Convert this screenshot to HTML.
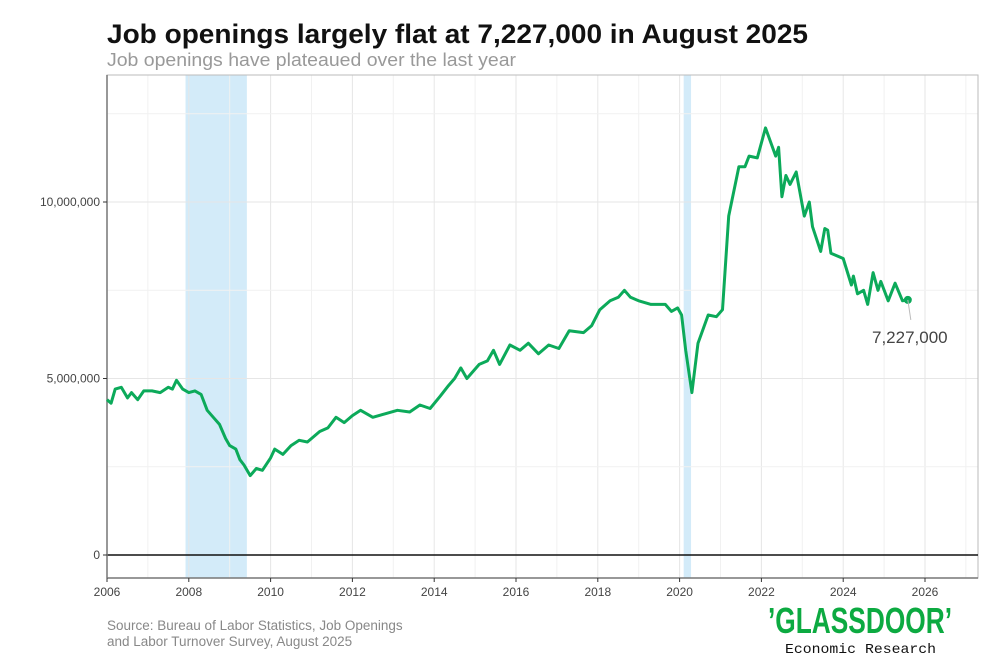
<!DOCTYPE html>
<html><head><meta charset="utf-8"><style>
body{margin:0;background:#fff;width:1000px;height:667px;overflow:hidden;font-family:"Liberation Sans",sans-serif}
</style></head><body>
<svg width="1000" height="667">
<text x="107" y="43" font-size="27" font-weight="bold" fill="#111" textLength="701" lengthAdjust="spacingAndGlyphs">Job openings largely flat at 7,227,000 in August 2025</text>
<text x="107" y="66" font-size="18" fill="#999" textLength="409" lengthAdjust="spacingAndGlyphs">Job openings have plateaued over the last year</text>
<g id="plot"></g>
<text x="107" y="630" font-size="13.5" fill="#888">Source: Bureau of Labor Statistics, Job Openings</text>
<text x="107" y="646" font-size="13.5" fill="#888">and Labor Turnover Survey, August 2025</text>
<text x="768" y="633" font-size="36" font-weight="bold" fill="#0caa41" textLength="184" lengthAdjust="spacingAndGlyphs">’GLASSDOOR’</text>
<text x="785" y="653" font-size="14" fill="#111" textLength="151" lengthAdjust="spacingAndGlyphs" font-family="Liberation Mono, monospace">Economic Research</text>
</svg>
<script>
const dates=[2006.0,2006.1,2006.2,2006.35,2006.5,2006.6,2006.75,2006.9,2007.1,2007.3,2007.5,2007.6,2007.7,2007.85,2008.0,2008.15,2008.3,2008.45,2008.6,2008.75,2008.9,2009.0,2009.15,2009.25,2009.35,2009.5,2009.65,2009.8,2010.0,2010.1,2010.3,2010.5,2010.7,2010.9,2011.2,2011.4,2011.6,2011.8,2012.0,2012.2,2012.5,2012.8,2013.1,2013.4,2013.65,2013.9,2014.15,2014.35,2014.5,2014.65,2014.8,2015.1,2015.3,2015.45,2015.6,2015.85,2016.1,2016.3,2016.55,2016.8,2017.05,2017.3,2017.65,2017.85,2018.05,2018.3,2018.5,2018.65,2018.8,2019.0,2019.3,2019.65,2019.8,2019.95,2020.05,2020.15,2020.3,2020.45,2020.7,2020.9,2021.05,2021.2,2021.45,2021.6,2021.7,2021.9,2022.1,2022.35,2022.42,2022.5,2022.6,2022.7,2022.85,2023.05,2023.17,2023.25,2023.45,2023.55,2023.62,2023.7,2024.0,2024.2,2024.25,2024.35,2024.5,2024.6,2024.73,2024.85,2024.92,2025.1,2025.27,2025.45,2025.58];
const values=[4.4,4.3,4.7,4.75,4.45,4.6,4.4,4.65,4.65,4.6,4.75,4.7,4.95,4.7,4.6,4.65,4.55,4.1,3.9,3.7,3.3,3.1,3.0,2.7,2.55,2.25,2.45,2.4,2.75,3.0,2.85,3.1,3.25,3.2,3.5,3.6,3.9,3.75,3.95,4.1,3.9,4.0,4.1,4.05,4.25,4.15,4.5,4.8,5.0,5.3,5.0,5.4,5.5,5.8,5.4,5.95,5.8,6.0,5.7,5.95,5.85,6.35,6.3,6.5,6.95,7.2,7.3,7.5,7.3,7.2,7.1,7.1,6.9,7.0,6.8,5.8,4.6,6.0,6.8,6.75,6.95,9.6,11.0,11.0,11.3,11.25,12.1,11.3,11.55,10.15,10.75,10.5,10.85,9.6,10.0,9.3,8.6,9.25,9.2,8.55,8.4,7.65,7.9,7.4,7.5,7.1,8.0,7.5,7.75,7.2,7.7,7.2,7.227];
const recessions=[[2007.92,2009.42],[2020.1,2020.28]];
const xTicks=[2006,2008,2010,2012,2014,2016,2018,2020,2022,2024,2026];
const yTicks=[0,5,10];
const yTickLabels=["0","5,000,000","10,000,000"];
const L=107,R=978,T=75,B=578;
const x=v=>L+(v-2006)*40.9;
const y=v=>555-v*35.3;
const ns="http://www.w3.org/2000/svg";
const g=document.getElementById('plot');
function mk(t,a,p){const e=document.createElementNS(ns,t);for(const k in a)e.setAttribute(k,a[k]);(p||g).appendChild(e);return e;}
recessions.forEach(r=>{
 const e=mk('rect',{x:x(r[0]),y:T,width:x(r[1])-x(r[0]),height:B-T,fill:'#d3ebf9'});
 
 
});
for(let yr=2006;yr<=2027;yr++){
 const e=mk('line',{x1:x(yr),x2:x(yr),y1:T,y2:B,stroke:yr%2==0?'#e6e6e6':'#f1f1f1','stroke-width':1});
 
 
}
for(let v=2.5;v<=12.5;v+=2.5){
 const e=mk('line',{x1:L,x2:R,y1:y(v),y2:y(v),stroke:v%5==0?'#e6e6e6':'#f1f1f1','stroke-width':1});
 
 
}
const fr=mk('rect',{x:L,y:T,width:R-L,height:B-T,fill:'none',stroke:'#bbb','stroke-width':1});


const z=mk('line',{x1:L,x2:R,y1:y(0),y2:y(0),stroke:'#111','stroke-width':1.5});


mk('line',{x1:L,x2:L,y1:T,y2:B,stroke:'#777','stroke-width':1.5});
mk('line',{x1:L,x2:R,y1:B,y2:B,stroke:'#777','stroke-width':1.5});
xTicks.forEach(t=>{
 mk('line',{x1:x(t),x2:x(t),y1:B,y2:B+4,stroke:'#333'});
 const e=mk('text',{x:x(t),y:B+18,'font-size':12,fill:'#444','text-anchor':'middle'});
 e.textContent=t;
 
 
});
yTicks.forEach((t,i)=>{
 mk('line',{x1:L-4,x2:L,y1:y(t),y2:y(t),stroke:'#333'});
 const e=mk('text',{x:L-7,y:y(t)+4,'font-size':12,fill:'#444','text-anchor':'end'});
 e.textContent=yTickLabels[i];
 
 
});
const d=dates.map((t,i)=>(i?'L':'M')+x(t).toFixed(1)+','+y(values[i]).toFixed(1)).join('');
const ln=mk('path',{d:d,fill:'none',stroke:'#0caa5a','stroke-width':3,'stroke-linejoin':'round'});


const lx=x(dates[dates.length-1]),ly=y(values[values.length-1]);
const dot=mk('circle',{cx:lx,cy:ly,r:4,fill:'#0caa5a'});


mk('line',{x1:lx,y1:ly,x2:lx+3,y2:ly+20,stroke:'#bbb'});
const lb=mk('text',{x:lx+2,y:ly+43,'font-size':17,fill:'#444','text-anchor':'middle'});
lb.textContent=values[values.length-1].toFixed(3).replace('.',',')+',000';


</script>
</body></html>
